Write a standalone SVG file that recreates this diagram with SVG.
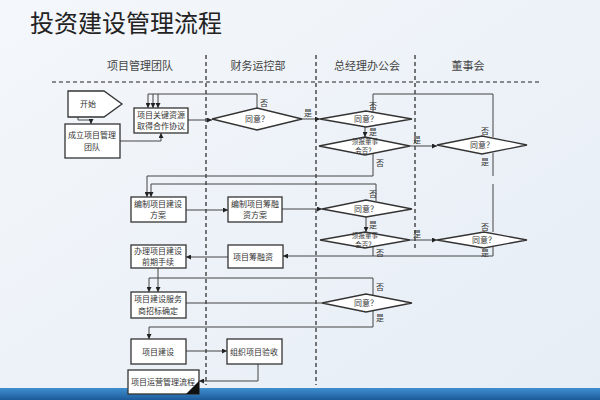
<svg xmlns="http://www.w3.org/2000/svg" width="600" height="400" viewBox="0 0 600 400">
<defs>
<linearGradient id="bg" x1="0" y1="0" x2="1" y2="1"><stop offset="0" stop-color="#f4f7fb"/><stop offset="1" stop-color="#e6edf5"/></linearGradient>
<linearGradient id="band" x1="0" y1="0" x2="0" y2="1"><stop offset="0" stop-color="#3f8fd0"/><stop offset="1" stop-color="#1c5a9a"/></linearGradient>
<marker id="a" viewBox="0 0 6 6" refX="6" refY="3" markerWidth="5" markerHeight="5" orient="auto"><path d="M0,0L6,3L0,6z" fill="#222"/></marker>
<style>
.n{fill:#fff;stroke:#333;stroke-width:1.3}
.t{font-family:"Noto Sans CJK SC","Liberation Sans",sans-serif;font-size:8px;fill:#333;text-anchor:middle}
.s{font-size:6.5px}
.h{font-family:"Noto Sans CJK SC",sans-serif;font-size:11px;fill:#444;text-anchor:middle}
.l{font-family:"Noto Sans CJK SC",sans-serif;font-size:8px;fill:#333}
.c{fill:none;stroke:#444;stroke-width:1}
.d{stroke:#222;stroke-width:1.2;stroke-dasharray:4,3}
</style>
</defs>
<rect width="600" height="400" fill="url(#bg)"/>
<rect y="388" width="600" height="12" fill="url(#band)"/>
<text x="30" y="32" font-family="Noto Sans CJK SC,sans-serif" font-size="24" fill="#222">投资建设管理流程</text>
<g id="lanes">
<line class="d" x1="52" y1="82" x2="542" y2="82"/>
<line class="d" x1="206" y1="55" x2="206" y2="385"/>
<line class="d" x1="316" y1="55" x2="316" y2="385"/>
<line class="d" x1="415" y1="55" x2="415" y2="250"/>
<text class="h" x="140" y="70">项目管理团队</text>
<text class="h" x="258" y="70">财务运控部</text>
<text class="h" x="367" y="70">总经理办公会</text>
<text class="h" x="468" y="70">董事会</text>
</g>
<g id="connectors" class="c">
<path d="M78,117V120H91V124" marker-end="url(#a)"/>
<path d="M120,141H161V133" marker-end="url(#a)"/>
<path d="M188,120H212" marker-end="url(#a)"/>
<path d="M257,109V94H148V108" marker-end="url(#a)"/>
<path d="M153,94V108" marker-end="url(#a)"/>
<path d="M158,94V108" marker-end="url(#a)"/>
<path d="M373,112V94H493V137"/>
<path d="M302,119H320" marker-end="url(#a)"/>
<path d="M365,127V137" marker-end="url(#a)"/>
<path d="M410,146H437" marker-end="url(#a)"/>
<path d="M373,153V176H147V197" marker-end="url(#a)"/>
<path d="M493,153V176"/>
<path d="M376,201V184H151V197" marker-end="url(#a)"/>
<path d="M493,232V184"/>
<path d="M186,210H228" marker-end="url(#a)"/>
<path d="M282,209H322" marker-end="url(#a)"/>
<path d="M366,216V232" marker-end="url(#a)"/>
<path d="M410,240H437" marker-end="url(#a)"/>
<path d="M373,247V256H283" marker-end="url(#a)"/>
<path d="M493,247V256H373"/>
<path d="M228,257H186" marker-end="url(#a)"/>
<path d="M158,268V292" marker-end="url(#a)"/>
<path d="M373,296V278H149V292" marker-end="url(#a)"/>
<path d="M186,303H322"/>
<path d="M373,310V327H149V339" marker-end="url(#a)"/>
<path d="M186,351H227" marker-end="url(#a)"/>
<path d="M258,364V381H199" marker-end="url(#a)"/>
</g>
<g class="l">
<text x="260" y="106">否</text><text x="304" y="116">是</text>
<text x="369" y="109">否</text><text x="369" y="135">是</text>
<text x="413" y="143">是</text><text x="376" y="166">否</text>
<text x="481" y="134">否</text><text x="481" y="165">是</text>
<text x="369" y="197">否</text><text x="369" y="228">是</text>
<text x="413" y="237">是</text><text x="376" y="256">否</text>
<text x="481" y="230">否</text><text x="481" y="256">是</text>
<text x="376" y="290">否</text><text x="376" y="321">是</text>
</g>
<g id="start"><path class="n" d="M68,91H104L122,104L104,117H68z"/><text class="t" x="88" y="107" font-size="10">开始</text></g>
<g id="team"><rect class="n" x="65" y="124" width="55" height="34"/><text class="t" x="92" y="138">成立项目管理</text><text class="t" x="92" y="150">团队</text></g>
<g id="agree"><rect class="n" x="134" y="108" width="54" height="25"/><text class="t" x="161" y="118">项目关键资源</text><text class="t" x="161" y="129">取得合作协议</text></g>
<g id="d1"><path class="n" d="M212,119L257,108L302,119L257,130z"/><text class="t" x="257" y="122">同意？</text></g>
<g id="d2"><path class="n" d="M320,119L366,111L412,119L366,127z"/><text class="t" x="366" y="122">同意？</text></g>
<g id="d3"><path class="n" d="M319,146L365,137L410,146L365,155z"/><text class="t s" x="365" y="144">须报董事</text><text class="t s" x="365" y="152.5">会否？</text></g>
<g id="d4"><path class="n" d="M437,145L482,136L527,145L482,154z"/><text class="t" x="482" y="148">同意？</text></g>
<g id="plan"><rect class="n" x="131" y="197" width="55" height="25"/><text class="t" x="158" y="207">编制项目建设</text><text class="t" x="158" y="218">方案</text></g>
<g id="fin"><rect class="n" x="228" y="197" width="54" height="25"/><text class="t" x="255" y="207">编制项目筹融</text><text class="t" x="255" y="218">资方案</text></g>
<g id="d5"><path class="n" d="M322,209L366,200L412,209L366,217z"/><text class="t" x="366" y="212">同意？</text></g>
<g id="d6"><path class="n" d="M320,240L365,232L410,240L365,248z"/><text class="t s" x="365" y="238">须报董事</text><text class="t s" x="365" y="246.5">会否？</text></g>
<g id="d7"><path class="n" d="M437,240L484,232L527,240L484,248z"/><text class="t" x="484" y="243">同意？</text></g>
<g id="fund"><rect class="n" x="228" y="245" width="55" height="23"/><text class="t" x="253" y="260">项目筹融资</text></g>
<g id="pre"><rect class="n" x="131" y="245" width="55" height="23"/><text class="t" x="158" y="254">办理项目建设</text><text class="t" x="158" y="265">前期手续</text></g>
<g id="bid"><rect class="n" x="131" y="292" width="55" height="26"/><text class="t" x="158" y="302">项目建设服务</text><text class="t" x="158" y="314">商招标确定</text></g>
<g id="d8"><path class="n" d="M322,303L366,294L412,303L366,312z"/><text class="t" x="366" y="306">同意？</text></g>
<g id="build"><rect class="n" x="131" y="339" width="55" height="25"/><text class="t" x="158" y="355">项目建设</text></g>
<g id="accept"><rect class="n" x="227" y="339" width="55" height="25"/><text class="t" x="254" y="355">组织项目验收</text></g>
<g id="ops"><rect class="n" x="128" y="370" width="71" height="24"/><path d="M199,381V394H186z" fill="#111"/><text class="t" x="163" y="385">项目运营管理流程</text></g>
</svg>
